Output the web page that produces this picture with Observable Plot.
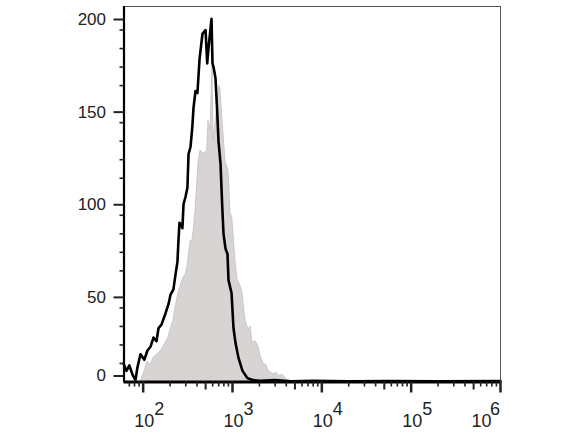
<!DOCTYPE html>
<html><head><meta charset="utf-8">
<script src="https://cdn.jsdelivr.net/npm/d3@7"></script>
<script src="https://cdn.jsdelivr.net/npm/@observablehq/plot@0.6"></script>
<style>body{margin:0;background:#fff}#chart{width:586px;height:440px}</style>
</head><body><div id="chart"></div>
<script>
// Black outlined histogram (intensity, count)
const blackX = [60.2, 65, 70, 75.9, 82, 86.3, 93.3, 103, 111.7, 120.7, 130.4, 140.9, 148.4, 160.3, 177.7, 192, 202, 218, 230, 242, 248, 255, 262, 275, 283, 298, 313, 322, 339, 354, 366, 385, 405, 427, 461, 499, 521, 538, 582, 597, 613, 645, 674, 697, 734, 767, 793, 835, 879, 902, 975, 1026, 1081, 1167, 1294, 1472, 1718, 2060, 3000, 4500, 8000, 20000, 60000, 200000, 1000000];
const blackY = [10, 6, 9, 4, 1, 8, 15, 12, 17, 19, 24, 22, 29, 31, 37, 42, 47, 50, 58, 65, 76, 86, 85, 83, 96, 100, 105, 123, 127, 137, 148, 157, 156, 174, 188, 190, 172, 180, 196, 172, 170, 164, 146, 130, 118, 95, 80, 72, 69, 55, 48, 29, 21, 13, 6, 2, 1, 0.6, 1, 0.4, 0.6, 0.4, 0.5, 0.4, 0.5];
// Gray filled histogram (intensity, count)
const grayX = [93.3, 100.8, 111.7, 120.7, 130.4, 144.6, 160.3, 177.7, 192, 202, 218, 230, 248, 275, 298, 313, 339, 354, 369, 385, 403, 416, 438, 473, 521, 538, 567, 597, 613, 645, 679, 716, 734, 773, 835, 902, 950, 992, 1026, 1081, 1138, 1229, 1294, 1398, 1511, 1591, 1676, 1810, 1955, 2060, 2224, 2403, 2531, 2734, 2879, 3111, 3360, 3631, 3925, 4130, 4460, 5770];
const grayY = [0, 4, 11, 9, 13, 15, 17, 21, 24, 28, 33, 40, 48, 55, 58, 62, 76, 76, 82, 92, 107, 118, 125, 123, 125, 141, 136, 170, 130, 140, 150, 160, 158, 141, 119, 114, 91, 89, 80, 65, 55, 52, 48, 33, 28, 30, 21, 22, 19, 14, 10, 9, 6, 5, 4, 5, 3, 4, 2, 1, 0.5, 0];

const yTicks = [0, 50, 100, 150, 200];
const xDecades = [100, 1000, 10000, 100000, 1000000];
const xExponents = ["2", "3", "4", "5", "6"];
const xDomain = [61, 1000000];
const yDomain = [0, 202.7];

const black = blackX.map((x, i) => ({x, y: blackY[i]}));
const gray = grayX.map((x, i) => ({x, y: grayY[i]}));
const xLabels = xDecades.map((v, i) => ({v, e: xExponents[i]}));

const minorX = [], mediumX = [];
for (const d of [10, 100, 1000, 10000, 100000]) {
  for (let k = 2; k <= 9; k++) {
    const v = k * d;
    if (v < xDomain[0] || v > xDomain[1]) continue;
    (k === 5 ? mediumX : minorX).push(v);
  }
}
const minorY = d3.range(0, 201, 10).filter(v => !yTicks.includes(v));

const txt = "#222";
const chart = Plot.plot({
  width: 586, height: 440,
  marginLeft: 123.5, marginRight: 86, marginTop: 6, marginBottom: 58.5,
  style: {fontFamily: "Liberation Sans, Arial, sans-serif", fontSize: "17px", background: "#fff", color: txt},
  x: {type: "log", domain: xDomain, axis: null},
  y: {domain: yDomain, axis: null},
  marks: [
    Plot.areaY(gray, {x: "x", y: "y", fill: "#d7d4d3", stroke: "#c3c0bf", strokeWidth: 0.8}),
    Plot.lineY(black, {x: "x", y: "y", stroke: "#000", strokeWidth: 2.6}),
    Plot.frame({stroke: "#555", strokeWidth: 1}),
    Plot.ruleX([xDomain[0]], {stroke: "#000", strokeWidth: 2.2}),
    Plot.ruleY([0], {stroke: "#000", strokeWidth: 2.8}),
    Plot.axisY(yTicks.filter(d => d > 0), {tickSize: 10, tickPadding: 8, dy: 8, strokeWidth: 2, fontSize: 17, fill: txt, label: null}),
    Plot.axisY([0], {tickSize: 10, tickPadding: 8, dy: -6, strokeWidth: 2, fontSize: 17, fill: txt, label: null}),
    Plot.axisY(minorY, {tickSize: 4, strokeWidth: 1.6, tickFormat: () => "", label: null}),
    Plot.axisX(xDecades, {tickSize: 11, strokeWidth: 2.5, tickFormat: () => "", label: null}),
    Plot.axisX(mediumX, {tickSize: 8, strokeWidth: 2, tickFormat: () => "", label: null}),
    Plot.axisX(minorX, {tickSize: 5, strokeWidth: 1.6, tickFormat: () => "", label: null}),
    Plot.text(xLabels.slice(0, 4), {x: "v", frameAnchor: "bottom", dy: 45, dx: 1, text: () => "10", fontSize: 18, fill: txt}),
    Plot.text(xLabels.slice(0, 4), {x: "v", frameAnchor: "bottom", dy: 33, dx: 11, textAnchor: "start", text: "e", fontSize: 18, fill: txt}),
    Plot.text(xLabels.slice(4), {x: "v", frameAnchor: "bottom", dy: 45, dx: -19, text: () => "10", fontSize: 18, fill: txt}),
    Plot.text(xLabels.slice(4), {x: "v", frameAnchor: "bottom", dy: 33, dx: -10.5, textAnchor: "start", text: "e", fontSize: 18, fill: txt})
  ]
});
document.getElementById("chart").append(chart);
</script>
</body></html>
